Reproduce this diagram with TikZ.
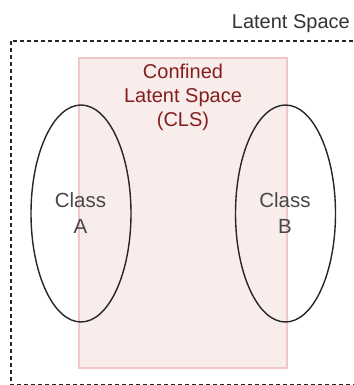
\documentclass[tikz,border=0pt]{standalone}
\usepackage{fontspec}
\setmainfont{Liberation Sans}
\definecolor{txtgray}{HTML}{333333}
\definecolor{clsred}{HTML}{821E1E}
\definecolor{pinkfill}{HTML}{F9EDEB}
\definecolor{pinkline}{HTML}{EFC8C6}
\begin{document}
\begin{tikzpicture}[x=1pt,y=-1pt,
  latent/.style={draw=black!85, line width=1.3pt, dash pattern=on 4pt off 3pt},
  clsbox/.style={draw=pinkline, fill=pinkfill, line width=1.3pt},
  classell/.style={draw=black!85, line width=1.4pt},
  lbl/.style={font=\fontsize{20}{24}\selectfont, text=txtgray, inner sep=0pt},
  clslbl/.style={font=\fontsize{20}{24}\selectfont, text=clsred, align=center, inner sep=0pt},
  classlbl/.style={font=\fontsize{20.5}{26}\selectfont, text=txtgray!90, align=center, inner sep=0pt}]
\useasboundingbox (0,0) rectangle (353,385);
\draw[latent] (11,41) rectangle (370,384.9);
\draw[clsbox] (79,58) rectangle (287,368);
\draw[classell] (81,213.5) ellipse [x radius=50, y radius=108.5];
\draw[classell] (285.5,213.5) ellipse [x radius=50, y radius=108.5];
\node[lbl, anchor=base east] (ls) at (350,29) {Latent Space};
\node[clslbl] (cls) at (183,97) {Confined\\Latent Space\\(CLS)};
\node[classlbl] (ca) at (80.5,213) {Class\\A};
\node[classlbl] (cb) at (285,213) {Class\\B};
\end{tikzpicture}
\end{document}
